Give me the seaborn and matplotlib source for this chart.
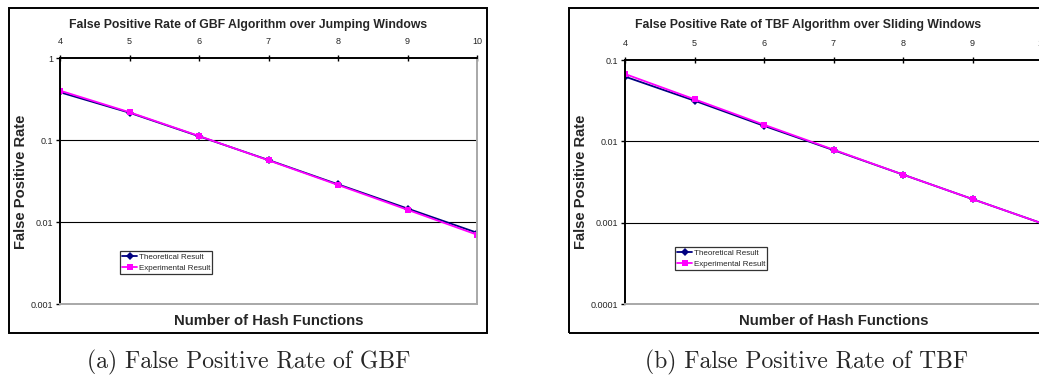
import matplotlib
matplotlib.use("Agg")
import matplotlib.pyplot as plt
from matplotlib.patches import Rectangle
from matplotlib.ticker import FixedLocator, FixedFormatter, NullLocator
import seaborn as sns
import pandas as pd

# Number of hash functions
hash_counts = [4, 5, 6, 7, 8, 9, 10]

# GBF over jumping windows
gbf_theoretical = [0.382, 0.215, 0.111, 0.057, 0.0288, 0.0146, 0.0074]
gbf_experimental = [0.400, 0.218, 0.112, 0.0565, 0.0283, 0.0141, 0.0070]

# TBF over sliding windows
tbf_theoretical = [0.0625, 0.0316, 0.0155, 0.0078, 0.0039, 0.00195, 0.00098]
tbf_experimental = [0.0673, 0.0329, 0.0160, 0.0079, 0.0039, 0.00195, 0.00098]

series_names = ["Theoretical Result", "Experimental Result"]

gbf_yticks = [1, 0.1, 0.01, 0.001]
gbf_ytick_labels = ["1", "0.1", "0.01", "0.001"]
tbf_yticks = [0.1, 0.01, 0.001, 0.0001]
tbf_ytick_labels = ["0.1", "0.01", "0.001", "0.0001"]

titles = ["False Positive Rate of GBF Algorithm over Jumping Windows",
          "False Positive Rate of TBF Algorithm over Sliding Windows"]
captions = ["(a) False Positive Rate of GBF", "(b) False Positive Rate of TBF"]

sns.set_theme(style="white")
plt.rcParams["font.family"] = ["Liberation Sans", "DejaVu Sans"]

W, H = 1039, 379
fig = plt.figure(figsize=(W / 100, H / 100), dpi=100)


def fx(px):
    return px / W


def fy(py):
    return 1 - py / H


def make_df(theo, expe):
    return pd.DataFrame({
        "k": hash_counts * 2,
        "rate": theo + expe,
        "series": [series_names[0]] * len(hash_counts) + [series_names[1]] * len(hash_counts),
    })


panels = [
    dict(frame=(9, 487), ax=(60, 477, 58, 304), data=(gbf_theoretical, gbf_experimental),
         yticks=gbf_yticks, ylabels=gbf_ytick_labels, ylim=(1e-3, 1), leg=(0.144, 0.215),
         ylab_x=21, title_x=248, caption=captions[0], cap_x=249),
    dict(frame=(569, 1045), ax=(625, 1042, 60, 304), data=(tbf_theoretical, tbf_experimental),
         yticks=tbf_yticks, ylabels=tbf_ytick_labels, ylim=(1e-4, 0.1), leg=(0.12, 0.234),
         ylab_x=581, title_x=808, caption=captions[1], cap_x=807),
]
for p, t in zip(panels, titles):
    p["title"] = t

palette = {series_names[0]: "#000080", series_names[1]: "#FF00FF"}
markers = {series_names[0]: "D", series_names[1]: "s"}

for p in panels:
    # outer chart frame
    x0, x1 = p["frame"]
    fig.patches.append(Rectangle((fx(x0), fy(333)), fx(x1) - fx(x0), fy(8) - fy(333),
                                 transform=fig.transFigure, fill=False,
                                 edgecolor="black", linewidth=1.4))

    l, r, t, b = p["ax"]
    ax = fig.add_axes([fx(l), fy(b), fx(r) - fx(l), fy(t) - fy(b)])
    df = make_df(*p["data"])
    sns.lineplot(data=df, x="k", y="rate", hue="series", style="series",
                 palette=palette, markers=markers, dashes=False, ax=ax,
                 linewidth=1.3, markersize=4, markeredgewidth=0)
    ax.set_yscale("log")
    ax.set_xlim(4, 10)
    ax.set_ylim(*p["ylim"])

    ax.yaxis.set_major_locator(FixedLocator(p["yticks"]))
    ax.yaxis.set_major_formatter(FixedFormatter(p["ylabels"]))
    ax.yaxis.set_minor_locator(NullLocator())
    ax.xaxis.set_major_locator(FixedLocator(hash_counts))
    ax.xaxis.set_major_formatter(FixedFormatter([str(k) for k in hash_counts]))
    ax.xaxis.tick_top()
    ax.tick_params(axis="x", which="major", top=True, bottom=False, direction="inout",
                   length=4, width=1, color="black", labelsize=6.5, pad=7)
    ax.tick_params(axis="y", which="major", left=True, direction="out",
                   length=3, width=1, color="black", labelsize=6.5, pad=2)

    for ytk in p["yticks"][1:-1]:
        ax.axhline(ytk, color="black", linewidth=0.8, zorder=0)

    ax.spines["left"].set_color("black")
    ax.spines["top"].set_color("black")
    ax.spines["right"].set_color("#a8a8a8")
    ax.spines["bottom"].set_color("#a8a8a8")
    for s in ax.spines.values():
        s.set_linewidth(1.4)

    ax.set_xlabel("")
    ax.set_ylabel("")

    leg = ax.legend(loc="upper left", bbox_to_anchor=p["leg"], fontsize=5.8,
                    frameon=True, fancybox=False, handlelength=1.8, handletextpad=0.2,
                    borderpad=0.3, labelspacing=0.4, borderaxespad=0)
    leg.get_frame().set_edgecolor("black")
    leg.get_frame().set_linewidth(0.9)

    fig.text(fx(p["title_x"]), fy(25), p["title"],
             ha="center", va="center", fontsize=8.8, fontweight="bold")
    fig.text(fx((l + r) / 2 - 0), fy(321), "Number of Hash Functions",
             ha="center", va="center", fontsize=10.7, fontweight="bold")
    fig.text(fx(p["ylab_x"]), fy(182), "False Positive Rate", rotation=90,
             ha="center", va="center", fontsize=10.6, fontweight="bold")
    fig.text(fx(p["cap_x"]), fy(362), p["caption"], ha="center", va="center",
             fontsize=17, family=["cmr10", "DejaVu Serif"])

fig.savefig("out.png", dpi=100)
